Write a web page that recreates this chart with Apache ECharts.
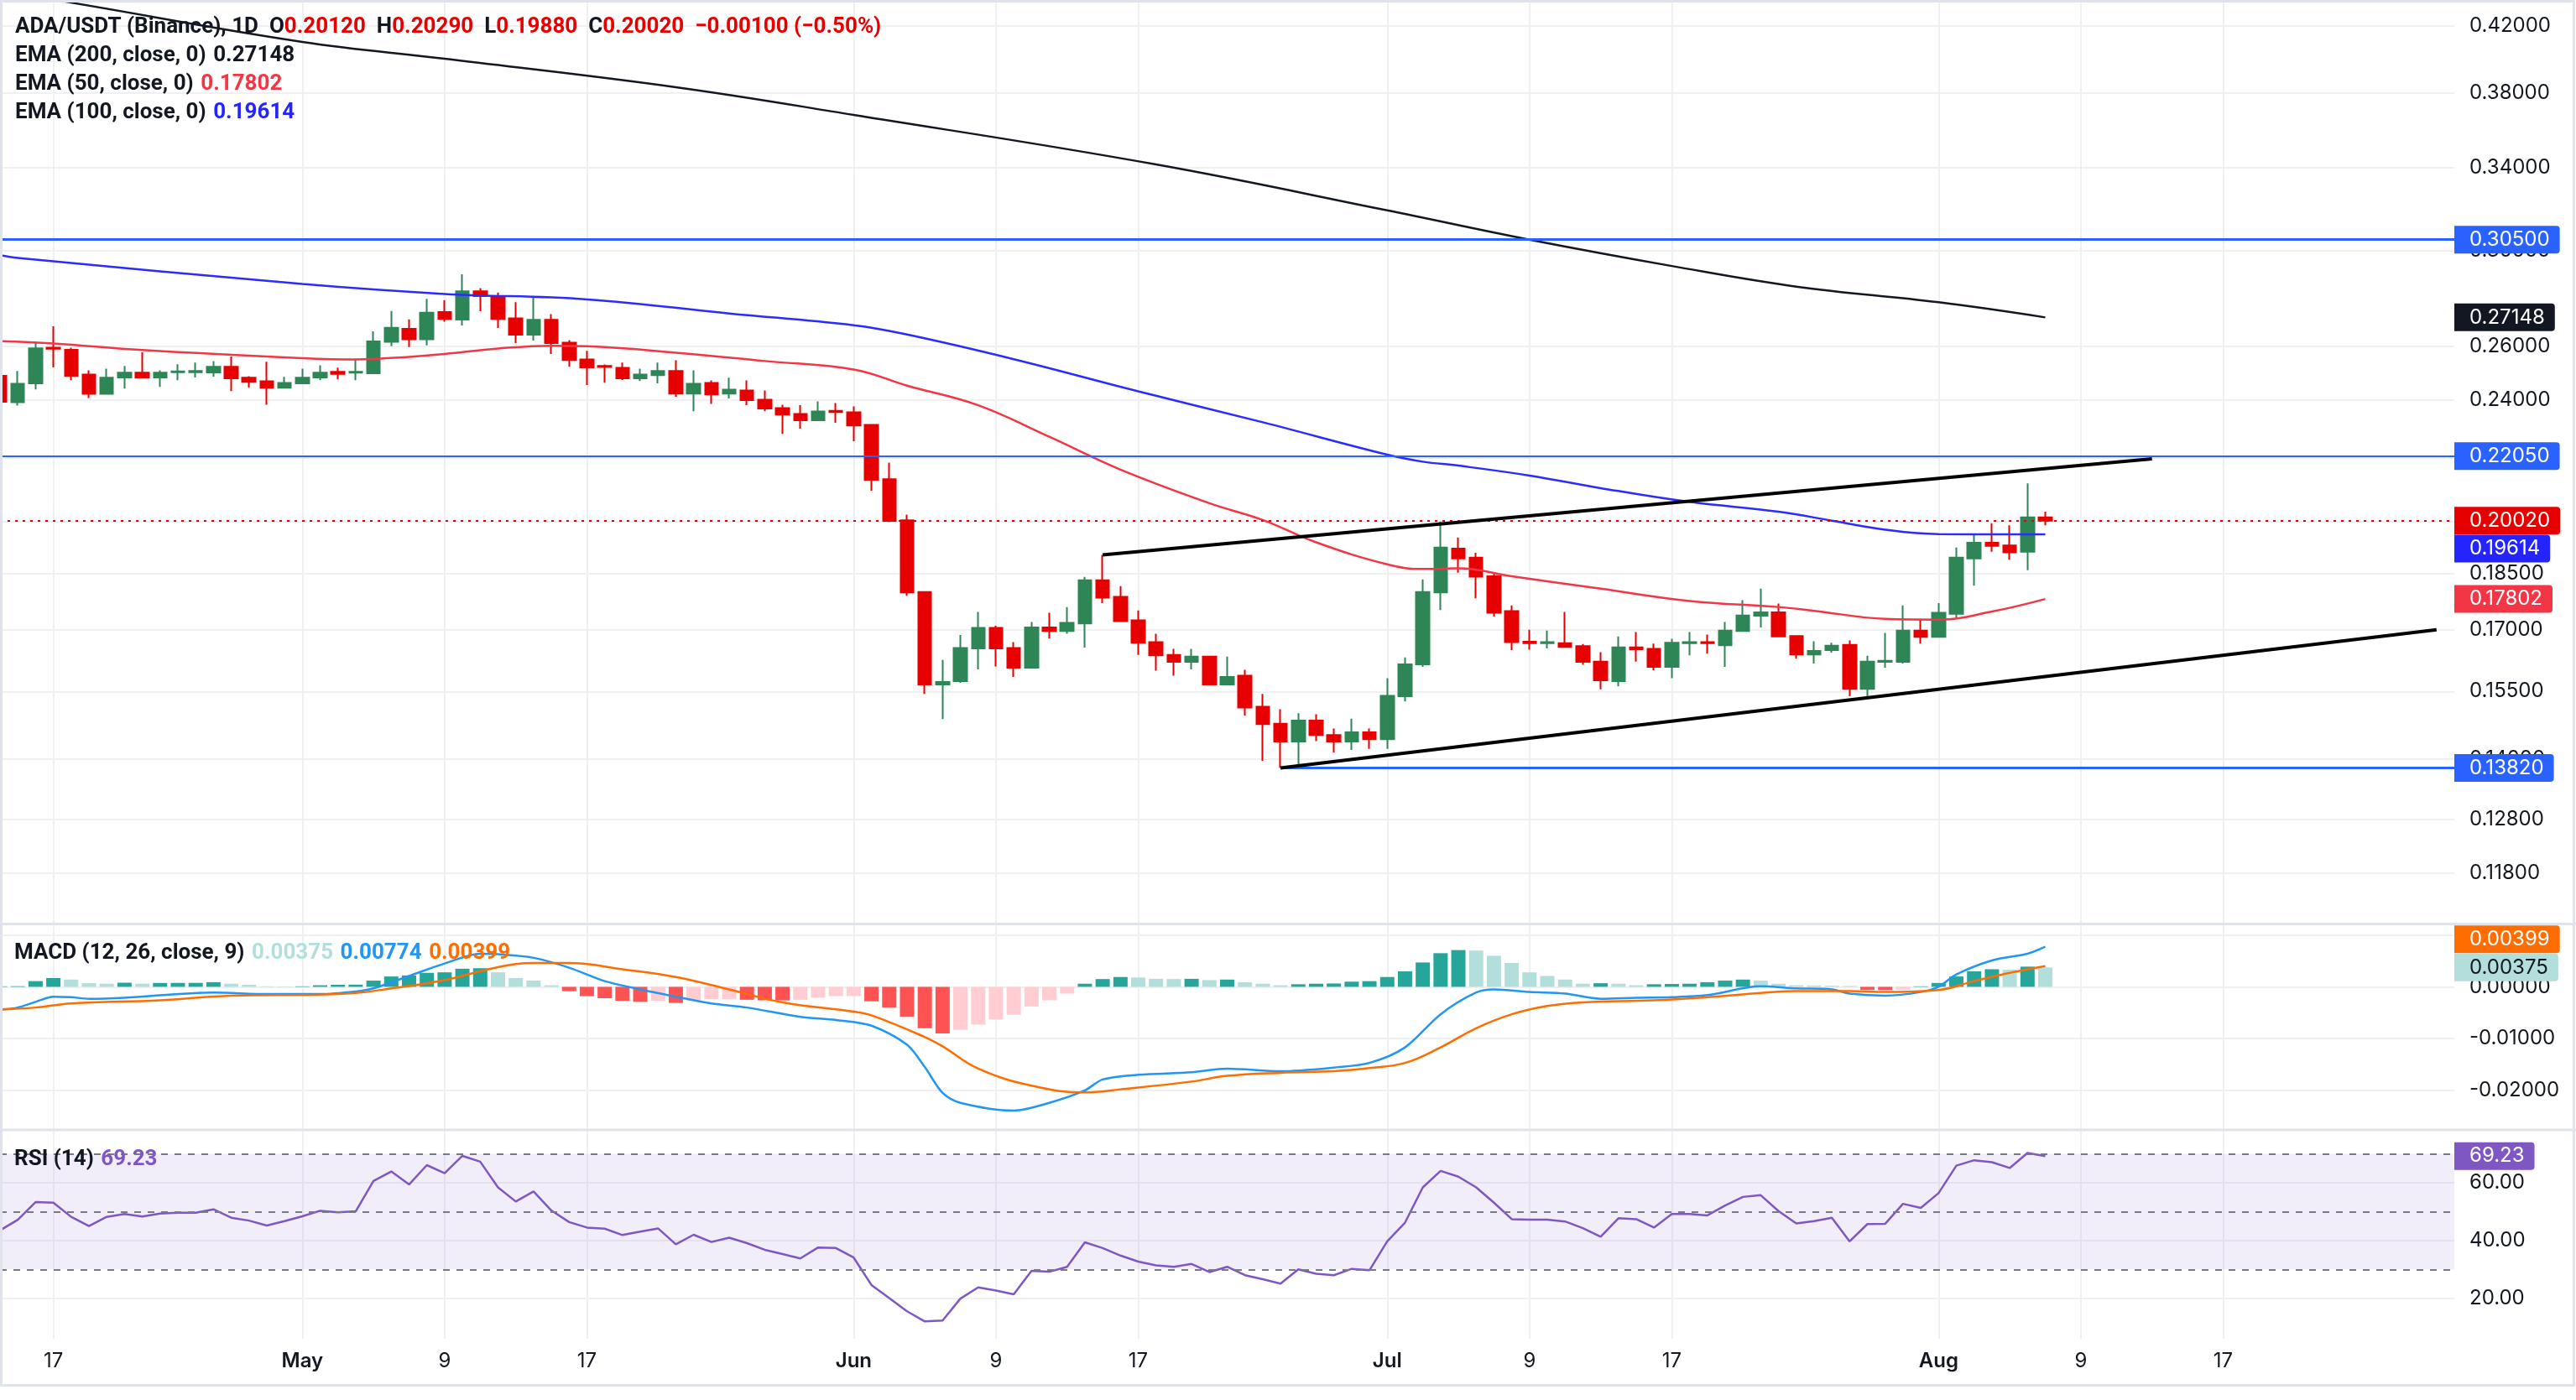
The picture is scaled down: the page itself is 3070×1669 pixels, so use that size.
<!DOCTYPE html>
<html lang="en">
  <head>
    <meta charset="UTF-8" />
    <meta name="viewport" content="width=device-width, initial-scale=1.0" />
    <title>ADA/USDT 1D</title>
    <script src="https://cdn.jsdelivr.net/npm/echarts@6.0.0/dist/echarts.min.js"></script>
    <style>
      html, body { margin: 0; padding: 0; background: #ffffff; }
    </style>
  </head>
  <body>
    <div id="main" style="width: 3070px; height: 1669px"></div>
    <script type="text/javascript">
      // ---------- values ----------
      // daily candles, Apr 14 .. Aug 7
      const candleOpen = [
        0.2487, 0.2391, 0.2459, 0.2594, 0.2586, 0.2492, 0.2421, 0.2481, 0.2499, 0.2481, 0.2501, 0.2501, 0.25, 0.2521, 0.248, 0.2467, 0.2443,
        0.2459, 0.2481, 0.2502, 0.2499, 0.2497, 0.2617, 0.2669, 0.2627, 0.2737, 0.2706, 0.2823, 0.2803, 0.2711, 0.2645, 0.2705, 0.2614, 0.2549, 0.2524, 0.2517, 0.2478, 0.249, 0.2505, 0.2422, 0.2461, 0.2422, 0.2433, 0.24, 0.237, 0.2349, 0.2327, 0.236,
        0.2355, 0.2311, 0.213, 0.2003, 0.1799, 0.1566, 0.1574, 0.1653, 0.1705, 0.1654, 0.1606, 0.1706, 0.1697, 0.1716, 0.1831, 0.1786, 0.1724, 0.1669, 0.1637, 0.162, 0.1633, 0.1566, 0.1587, 0.1515, 0.1477, 0.1438, 0.1484, 0.1452, 0.1438, 0.1458,
        0.1443, 0.1539, 0.1614, 0.1798, 0.192, 0.1894, 0.1842, 0.1748, 0.167, 0.1666, 0.1666, 0.1659, 0.1621, 0.1574, 0.1656, 0.1652, 0.1608, 0.1666, 0.1669, 0.1661, 0.1697, 0.1736, 0.1745, 0.1684, 0.1638, 0.1649, 0.1662, 0.1556, 0.162, 0.162, 0.1698,
        0.1682, 0.1741, 0.1892, 0.1937, 0.1929, 0.1911, 0.2012
      ];
      const candleHigh = [
        0.2495, 0.2505, 0.2614, 0.2679, 0.2594, 0.2508, 0.2514, 0.2524, 0.2576, 0.2508, 0.2531, 0.2537, 0.2543, 0.256, 0.2486, 0.254, 0.2483,
        0.2514, 0.2527, 0.2518, 0.255, 0.2659, 0.2741, 0.2707, 0.2791, 0.2785, 0.2896, 0.2836, 0.2818, 0.2777, 0.2804, 0.2728, 0.2624, 0.2582, 0.253, 0.2537, 0.2514, 0.2537, 0.2546, 0.2508, 0.247, 0.248, 0.247, 0.2433, 0.2382, 0.238, 0.2394, 0.2388,
        0.2376, 0.2311, 0.2184, 0.202, 0.1799, 0.1625, 0.1687, 0.1746, 0.171, 0.1669, 0.172, 0.1744, 0.1759, 0.184, 0.1902, 0.1815, 0.175, 0.169, 0.1652, 0.1652, 0.1635, 0.1633, 0.1601, 0.1544, 0.1509, 0.15, 0.1498, 0.1466, 0.1488, 0.1466,
        0.1581, 0.1631, 0.1833, 0.1999, 0.1952, 0.1908, 0.185, 0.1763, 0.17, 0.1698, 0.1746, 0.1664, 0.1644, 0.1683, 0.1694, 0.1665, 0.1677, 0.1694, 0.1688, 0.172, 0.1777, 0.1808, 0.1768, 0.1684, 0.1671, 0.1667, 0.1673, 0.1635, 0.1692, 0.1763, 0.1728,
        0.1769, 0.1923, 0.1962, 0.1994, 0.1988, 0.2117, 0.2029
      ];
      const candleLow = [
        0.2387, 0.2379, 0.2437, 0.2519, 0.2471, 0.2406, 0.2418, 0.244, 0.248, 0.2446, 0.2471, 0.2481, 0.2484, 0.2431, 0.2443, 0.2382, 0.2443,
        0.2459, 0.2471, 0.2474, 0.2471, 0.2497, 0.26, 0.2597, 0.2603, 0.2697, 0.2682, 0.274, 0.2672, 0.2612, 0.2622, 0.257, 0.2522, 0.2453, 0.2462, 0.2472, 0.2468, 0.2459, 0.241, 0.2359, 0.2385, 0.2404, 0.238, 0.2359, 0.228, 0.2298, 0.2327, 0.2318,
        0.2255, 0.2094, 0.1998, 0.1789, 0.1544, 0.1487, 0.157, 0.1602, 0.1609, 0.1584, 0.1606, 0.1678, 0.169, 0.1655, 0.1769, 0.1721, 0.1637, 0.1599, 0.1587, 0.1602, 0.1564, 0.1566, 0.1495, 0.1397, 0.1382, 0.1387, 0.1439, 0.1414, 0.142, 0.1422,
        0.1422, 0.1527, 0.1608, 0.1751, 0.1852, 0.1782, 0.1734, 0.1649, 0.165, 0.1653, 0.1657, 0.1613, 0.1555, 0.1562, 0.1621, 0.16, 0.1581, 0.1636, 0.164, 0.1608, 0.1695, 0.1706, 0.1682, 0.1628, 0.1616, 0.1643, 0.1539, 0.1536, 0.1606, 0.1616, 0.1665,
        0.1682, 0.1729, 0.1816, 0.1911, 0.1888, 0.1859, 0.1988
      ];
      const candleClose = [
        0.2392, 0.2458, 0.2592, 0.259, 0.2487, 0.2421, 0.248, 0.2499, 0.2481, 0.2499, 0.2504, 0.2505, 0.2521, 0.2478, 0.2465, 0.2443, 0.2461,
        0.248, 0.2499, 0.2494, 0.2502, 0.2619, 0.2673, 0.2627, 0.2734, 0.2708, 0.2823, 0.2803, 0.2708, 0.2645, 0.2705, 0.2612, 0.2547, 0.2519, 0.252, 0.2478, 0.2492, 0.2505, 0.2422, 0.2458, 0.2419, 0.2436, 0.2398, 0.2368, 0.2347, 0.2327, 0.2358, 0.2356,
        0.2309, 0.2128, 0.2001, 0.1798, 0.1566, 0.1572, 0.1654, 0.1705, 0.1653, 0.1606, 0.1706, 0.1697, 0.1718, 0.1831, 0.1784, 0.1722, 0.1667, 0.1636, 0.162, 0.1633, 0.1566, 0.1584, 0.1513, 0.1476, 0.1438, 0.1484, 0.1452, 0.1438, 0.1458, 0.1443,
        0.154, 0.1614, 0.1799, 0.1923, 0.1892, 0.1841, 0.1744, 0.1669, 0.1666, 0.1669, 0.1657, 0.162, 0.1576, 0.1656, 0.1651, 0.1608, 0.1667, 0.1669, 0.1666, 0.1698, 0.1737, 0.1745, 0.1683, 0.1638, 0.1647, 0.166, 0.1556, 0.1621, 0.1623, 0.1698, 0.1682,
        0.1744, 0.1894, 0.1937, 0.1928, 0.1909, 0.2012, 0.2002
      ];

      // moving averages, read at sample days
      const ema200Days = ["04-14", "04-17", "05-01", "05-09", "05-22", "06-01", "06-18", "07-01", "07-09", "07-17", "07-24", "08-01", "08-07"];
      const ema200Vals = [0.442, 0.437, 0.4102, 0.4, 0.3833, 0.3677, 0.3414, 0.3187, 0.305, 0.2932, 0.2843, 0.2777, 0.27148];
      const ema50Days = ["04-14", "04-17", "04-22", "05-01", "05-04", "05-07", "05-09", "05-12", "05-15", "05-17", "05-22", "05-27", "06-01", "06-04", "06-08", "06-12", "06-16", "06-21", "06-24", "06-27", "07-01", "07-03", "07-05", "07-08", "07-13", "07-18", "07-23", "07-25", "07-29", "08-01", "08-04", "08-07"];
      const ema50Vals = [0.262, 0.2611, 0.2585, 0.2554, 0.2549, 0.2559, 0.257, 0.2591, 0.2602, 0.26, 0.2575, 0.2543, 0.2511, 0.2451, 0.238, 0.227, 0.2161, 0.2055, 0.2004, 0.1938, 0.1875, 0.1862, 0.1864, 0.1842, 0.1808, 0.1775, 0.1759, 0.1749, 0.1728, 0.1726, 0.1747, 0.17802];
      const ema100Days = ["04-14", "04-15", "05-01", "05-09", "05-17", "05-25", "06-01", "06-04", "06-10", "06-17", "06-24", "07-01", "07-03", "07-05", "07-09", "07-13", "07-18", "07-23", "07-26", "07-29", "08-01", "08-07"];
      const ema100Vals = [0.298, 0.2968, 0.2854, 0.2812, 0.2789, 0.2731, 0.2683, 0.2646, 0.255, 0.243, 0.232, 0.221, 0.2187, 0.2174, 0.2142, 0.2102, 0.2059, 0.2029, 0.2002, 0.1975, 0.1962, 0.19614];

      // drawn levels and trend lines
      const levelLines = [0.305, 0.2205];
      const supportLevel = 0.1382;
      const supportFrom = "06-25";
      const upperTrend = [["06-15", 0.1902], ["08-13", 0.2196]];
      const lowerTrend = [["06-25", 0.1382], ["08-29", 0.17]];

      // MACD (12, 26, 9)
      const macdHist = [
        0.0001, 0.00012, 0.0011, 0.0017, 0.0014, 0.0007, 0.0006, 0.0008, 0.0006, 0.00075, 0.00076, 0.00077, 0.0009, 0.0006, 0.0004, 0.0001, 0.00008,
        0.0001, 0.0003, 0.0004, 0.00042, 0.0012, 0.002, 0.0022, 0.0027, 0.0028, 0.0035, 0.0036, 0.0028, 0.0017, 0.0012, 0.0003, -0.00085, -0.0018, -0.0022, -0.0027, -0.0029, -0.0027, -0.0031, -0.0027, -0.0024, -0.00238, -0.0025, -0.0026, -0.00262, -0.0025, -0.0021, -0.0018,
        -0.00178, -0.0028, -0.004, -0.0058, -0.008, -0.009, -0.0083, -0.0073, -0.0063, -0.0054, -0.0038, -0.0026, -0.0013, 0.0006, 0.0015, 0.0019, 0.0018, 0.00155, 0.0015, 0.00155, 0.0013, 0.0014, 0.0009, 0.0006, 0.0003, 0.0005, 0.0006, 0.00065, 0.001, 0.0011,
        0.0019, 0.003, 0.0047, 0.0065, 0.0071, 0.007, 0.006, 0.0046, 0.0028, 0.0021, 0.0014, 0.0006, 0.0007, 0.0006, 0.0003, 0.0005, 0.00055, 0.0006, 0.0009, 0.0012, 0.0014, 0.0012, 0.0006, 0.0003, 0.00025, 0.0002, 0.00015, -0.0006, -0.00065, -0.0006, 0.0001,
        0.00075, 0.002, 0.003, 0.0034, 0.0033, 0.0039, 0.00375
      ];
      const macdDays = ["04-14", "04-15", "04-16", "04-17", "04-18", "04-19", "04-21", "04-26", "04-29", "05-02", "05-04", "05-05", "05-07", "05-09", "05-11", "05-12", "05-14", "05-16", "05-18", "05-20", "05-22", "05-24", "05-26", "05-29", "05-31", "06-02", "06-04", "06-05", "06-06", "06-07", "06-10", "06-12", "06-14", "06-15", "06-17", "06-20", "06-22", "06-25", "06-28", "06-30", "07-02", "07-04", "07-06", "07-07", "07-09", "07-11", "07-13", "07-15", "07-17", "07-19", "07-22", "07-24", "07-26", "07-27", "07-29", "07-31", "08-01", "08-02", "08-04", "08-06", "08-07"];
      const macdVals = [-0.0044, -0.004, -0.0029, -0.0019, -0.002, -0.0023, -0.0021, -0.0011, -0.0014, -0.0014, -0.0009, -0.0003, 0.0021, 0.0045, 0.0064, 0.0063, 0.0056, 0.0037, 0.0011, -0.0005, -0.0019, -0.0032, -0.004, -0.0058, -0.0064, -0.0075, -0.0112, -0.0155, -0.0205, -0.0224, -0.0239, -0.0224, -0.02, -0.0179, -0.017, -0.0165, -0.0158, -0.0163, -0.0156, -0.0147, -0.0117, -0.0053, -0.0011, -0.0005, -0.001, -0.0013, -0.0023, -0.0021, -0.002, -0.0016, 0.0001, -0.0003, -0.0005, -0.0013, -0.0017, -0.001, 0.0, 0.0024, 0.0051, 0.0064, 0.00774];
      const signalDays = ["04-14", "04-16", "04-18", "04-23", "04-27", "05-02", "05-04", "05-06", "05-09", "05-12", "05-14", "05-16", "05-19", "05-22", "05-25", "05-28", "06-01", "06-02", "06-05", "06-06", "06-08", "06-11", "06-14", "06-16", "06-20", "06-22", "06-25", "06-28", "06-30", "07-02", "07-04", "07-06", "07-08", "07-10", "07-12", "07-16", "07-19", "07-22", "07-24", "07-27", "07-29", "08-01", "08-03", "08-05", "08-07"];
      const signalVals = [-0.0044, -0.004, -0.0032, -0.0026, -0.0017, -0.0015, -0.0012, -0.0003, 0.0013, 0.0038, 0.0046, 0.0046, 0.0034, 0.0019, -0.0005, -0.003, -0.0048, -0.0055, -0.0097, -0.0115, -0.0158, -0.0191, -0.0204, -0.0198, -0.0183, -0.0172, -0.0166, -0.0163, -0.0157, -0.0147, -0.0117, -0.008, -0.0053, -0.0037, -0.003, -0.0026, -0.002, -0.0012, -0.0008, -0.0008, -0.001, -0.0006, 0.0011, 0.0027, 0.00399];

      // RSI (14), daily
      const rsiVals = [
        43.5, 47.2, 53.3, 53.1, 48.2, 45.0, 48.2, 49.2, 48.3, 49.3, 49.6, 49.6, 50.8, 47.9, 46.9, 45.2, 46.7,
        48.4, 50.3, 49.8, 50.1, 60.6, 63.9, 59.4, 66.1, 63.3, 69.3, 67.3, 58.4, 53.5, 57.0, 50.4, 46.4, 44.5, 44.1, 41.9, 43.1, 44.2, 38.7, 42.0, 39.5, 41.0, 39.1, 36.8, 35.3, 33.8, 37.6, 37.4,
        34.1, 24.6, 20.1, 15.5, 12.0, 12.3, 19.9, 23.8, 22.7, 21.4, 29.5, 29.2, 30.9, 39.4, 37.4, 34.8, 32.7, 31.4, 30.9, 31.9, 29.1, 30.9, 28.0, 26.6, 25.1, 30.0, 28.5, 28.0, 30.2, 29.7,
        39.7, 46.2, 58.4, 64.1, 62.1, 58.4, 53.1, 47.4, 47.2, 47.2, 46.6, 44.3, 41.3, 47.7, 47.4, 44.5, 49.2, 49.2, 48.7, 52.1, 55.1, 55.7, 50.2, 45.9, 46.7, 47.9, 39.7, 45.7, 45.8, 52.7, 51.3,
        56.4, 65.9, 67.8, 67.1, 65.1, 70.3, 69.23
      ];

      // axis ticks
      const priceGridTicks = [0.42, 0.38, 0.34, 0.3, 0.26, 0.24, 0.22, 0.2, 0.185, 0.17, 0.155, 0.14, 0.128, 0.118];
      const priceLabelTicks = [0.42, 0.38, 0.34, 0.3, 0.26, 0.24, 0.185, 0.17, 0.155, 0.14, 0.128, 0.118];
      const macdGridTicks = [0.01, 0, -0.01, -0.02];
      const macdLabelTicks = [0, -0.01, -0.02];
      const rsiTicks = [60, 40, 20];
      const rsiBands = [70, 50, 30];
      const xTickDays = [1, 9, 17];
      const monthNames = ["Jan", "Feb", "Mar", "Apr", "May", "Jun", "Jul", "Aug", "Sep", "Oct", "Nov", "Dec"];

      // ---------- build ----------
      const FONT = 'Inter, "Noto Sans", sans-serif';
      const LEGEND_FONT = 'Roboto, "Noto Sans", sans-serif';
      const TXT = "#131722";
      const GRID = "#f0f0f3";
      const BORDER = "#e0e3eb";
      const UP = "#2e8555";
      const DOWN = "#e60000";
      const NONE = "rgba(0,0,0,0)";

      const categories = [];
      for (let d = new Date(2024, 3, 14); d <= new Date(2024, 7, 30); d.setDate(d.getDate() + 1)) {
        categories.push(String(d.getMonth() + 1).padStart(2, "0") + "-" + String(d.getDate()).padStart(2, "0"));
      }
      const idx = (day) => categories.indexOf(day);
      const isTickDay = (val) => xTickDays.includes(+val.split("-")[1]);
      const pairs = (days, vals) => days.map((d, i) => [d, vals[i]]);
      const f5 = (v) => v.toFixed(5);
      const minus = (s) => s.replace("-", "\u2212");

      const candles = candleOpen.map((o, i) => [o, candleClose[i], candleLow[i], candleHigh[i]]);
      const n = candleOpen.length;
      const lastO = candleOpen[n - 1], lastH = candleHigh[n - 1], lastL = candleLow[n - 1], lastC = candleClose[n - 1];
      const chg = lastC - candleClose[n - 2];
      const chgPct = (chg / candleClose[n - 2]) * 100;

      const histColor = (i) => {
        const v = macdHist[i];
        const p = i ? macdHist[i - 1] : v;
        if (v >= 0) return v >= p ? "#26a69a" : "#b2dfdb";
        return v < p ? "#ff5252" : "#ffcdd2";
      };

      function tagLabel(text, bg, fg) {
        return {
          show: true, position: "end", distance: 0, formatter: text,
          color: fg || "#ffffff", backgroundColor: bg, padding: [5, 12, 4, 18],
          fontSize: 24, lineHeight: 24, fontFamily: FONT, borderRadius: [0, 4, 4, 0]
        };
      }
      // a price tag on the axis with no line across the pane
      function tag(value, text, bg, fg) {
        return { yAxis: value, lineStyle: { color: NONE, width: 0 }, label: tagLabel(text, bg, fg) };
      }

      const ema200Last = ema200Vals[ema200Vals.length - 1];
      const ema50Last = ema50Vals[ema50Vals.length - 1];
      const ema100Last = ema100Vals[ema100Vals.length - 1];
      const histLast = macdHist[macdHist.length - 1];
      const macdLast = macdVals[macdVals.length - 1];
      const signalLast = signalVals[signalVals.length - 1];
      const rsiLast = rsiVals[rsiVals.length - 1];

      const gridLine = { show: true, lineStyle: { color: GRID, width: 2 } };
      const legendStyle = (extra) => {
        const rich = { g: { fontSize: 26, color: TXT, fontFamily: LEGEND_FONT } };
        Object.keys(extra).forEach((k) => (rich[k] = { fontSize: 26, color: extra[k], fontFamily: LEGEND_FONT }));
        return { rich: rich };
      };

      const myChart = echarts.init(document.getElementById("main"));

      const option = {
        animation: false,
        backgroundColor: "#ffffff",
        textStyle: { fontFamily: FONT },
        title: [
          {
            left: 18, top: 19, padding: 0,
            text:
              "{g|ADA/USDT (Binance), 1D  O}{r|" + f5(lastO) + "}{g|  H}{r|" + f5(lastH) +
              "}{g|  L}{r|" + f5(lastL) + "}{g|  C}{r|" + f5(lastC) + "}{r|  " +
              minus(f5(chg)) + " (" + minus(chgPct.toFixed(2)) + "%)}",
            textStyle: legendStyle({ r: DOWN })
          },
          {
            left: 18, top: 53, padding: 0,
            text: "{g|EMA (200, close, 0)}  {v|" + f5(ema200Last) + "}",
            textStyle: legendStyle({ v: "#131722" })
          },
          {
            left: 18, top: 87, padding: 0,
            text: "{g|EMA (50, close, 0)}  {v|" + f5(ema50Last) + "}",
            textStyle: legendStyle({ v: "#f23645" })
          },
          {
            left: 18, top: 121, padding: 0,
            text: "{g|EMA (100, close, 0)}  {v|" + f5(ema100Last) + "}",
            textStyle: legendStyle({ v: "#2424ff" })
          },
          {
            left: 17, top: 1123, padding: 0,
            text: "{g|MACD (12, 26, close, 9)}  {h|" + f5(histLast) + "}  {m|" + f5(macdLast) + "}  {s|" + f5(signalLast) + "}",
            textStyle: legendStyle({ h: "#b2dfdb", m: "#2196f3", s: "#ff6d00" })
          },
          {
            left: 17, top: 1369, padding: 0,
            text: "{g|RSI (14)}  {v|" + rsiLast.toFixed(2) + "}",
            textStyle: legendStyle({ v: "#7e57c2" })
          }
        ],
        grid: [
          { left: 0, right: 145, top: 0, height: 1100 },
          { left: 0, right: 145, top: 1103, height: 245 },
          { left: 0, right: 145, top: 1348, height: 248 }
        ],
        xAxis: [0, 1, 2].map((g) => ({
          type: "category",
          gridIndex: g,
          data: categories,
          boundaryGap: false,
          axisLine: { show: false },
          axisTick: { show: false },
          axisLabel:
            g === 2
              ? {
                  show: true,
                  interval: (i, val) => isTickDay(val),
                  formatter: (val) => {
                    const [m, d] = val.split("-");
                    return +d === 1 ? "{m|" + monthNames[+m - 1] + "}" : String(+d);
                  },
                  color: TXT, fontSize: 24, fontFamily: FONT, margin: 15,
                  rich: { m: { color: TXT, fontSize: 24, fontWeight: 600, fontFamily: FONT } }
                }
              : { show: false },
          splitLine: { show: true, interval: (i, val) => isTickDay(val), lineStyle: { color: GRID, width: 2 } }
        })),
        yAxis: [
          {
            type: "log", logBase: 10, gridIndex: 0, position: "right",
            min: 0.1096, max: 0.4368,
            axisLine: { show: false },
            axisTick: { show: false, customValues: priceGridTicks },
            axisLabel: { customValues: priceLabelTicks, formatter: (v) => v.toFixed(5), margin: 18, fontSize: 24, color: TXT, fontFamily: FONT },
            splitLine: gridLine
          },
          {
            type: "value", gridIndex: 1, position: "right",
            min: -0.0278, max: 0.0119,
            axisLine: { show: false },
            axisTick: { show: false, customValues: macdGridTicks },
            axisLabel: { customValues: macdLabelTicks, formatter: (v) => v.toFixed(5), margin: 18, fontSize: 24, color: TXT, fontFamily: FONT },
            splitLine: gridLine
          },
          {
            type: "value", gridIndex: 2, position: "right",
            min: 6, max: 78,
            axisLine: { show: false },
            axisTick: { show: false, customValues: rsiTicks },
            axisLabel: { customValues: rsiTicks, formatter: (v) => v.toFixed(2), margin: 18, fontSize: 24, color: TXT, fontFamily: FONT },
            splitLine: gridLine
          }
        ],
        series: [
          {
            name: "ADA/USDT",
            type: "candlestick",
            xAxisIndex: 0, yAxisIndex: 0,
            data: candles,
            barWidth: 16,
            z: 3,
            itemStyle: { color: UP, color0: DOWN, borderColor: UP, borderColor0: DOWN, borderWidth: 2 }
          },
          {
            name: "EMA 200", type: "line", xAxisIndex: 0, yAxisIndex: 0,
            data: pairs(ema200Days, ema200Vals), smooth: 0.4, showSymbol: false, z: 4,
            lineStyle: { color: "#131722", width: 2.5 }
          },
          {
            name: "EMA 50", type: "line", xAxisIndex: 0, yAxisIndex: 0,
            data: pairs(ema50Days, ema50Vals), smooth: 0.4, showSymbol: false, z: 4,
            lineStyle: { color: "#f23645", width: 2.5 }
          },
          {
            name: "EMA 100", type: "line", xAxisIndex: 0, yAxisIndex: 0,
            data: pairs(ema100Days, ema100Vals), smooth: 0.4, showSymbol: false, z: 4,
            lineStyle: { color: "#2b2bff", width: 2.5 }
          },
          {
            name: "levels", type: "line", xAxisIndex: 0, yAxisIndex: 0, data: [], z: 5,
            markLine: {
              silent: true, symbol: ["none", "none"], animation: false, precision: 6,
              data: [
                { yAxis: levelLines[0], lineStyle: { color: "#2962ff", width: 3, type: "solid" }, label: tagLabel(f5(levelLines[0]), "#2962ff") },
                { yAxis: levelLines[1], lineStyle: { color: "#2962ff", width: 2, type: "solid" }, label: tagLabel(f5(levelLines[1]), "#2962ff") },
                { yAxis: lastC, lineStyle: { color: DOWN, width: 2, type: [3, 6] }, label: tagLabel(f5(lastC), DOWN) },
                [
                  { coord: [idx(supportFrom), supportLevel], lineStyle: { color: "#2962ff", width: 3, type: "solid" }, label: tagLabel(f5(supportLevel), "#2962ff") },
                  { coord: [categories.length - 1, supportLevel] }
                ],
                [
                  { coord: [idx(upperTrend[0][0]), upperTrend[0][1]], lineStyle: { color: "#000000", width: 4, type: "solid" }, label: { show: false } },
                  { coord: [idx(upperTrend[1][0]), upperTrend[1][1]] }
                ],
                [
                  { coord: [idx(lowerTrend[0][0]), lowerTrend[0][1]], lineStyle: { color: "#000000", width: 4, type: "solid" }, label: { show: false } },
                  { coord: [idx(lowerTrend[1][0]), lowerTrend[1][1]] }
                ],
                tag(ema200Last, f5(ema200Last), "#131722"),
                // nudged below the last-price tag, as the platform does
                tag(0.192, f5(ema100Last), "#2424ff"),
                tag(ema50Last, f5(ema50Last), "#f23645")
              ]
            }
          },
          {
            name: "Histogram", type: "bar", xAxisIndex: 1, yAxisIndex: 1,
            data: macdHist.map((v, i) => ({ value: v, itemStyle: { color: histColor(i) } })),
            barWidth: 17
          },
          {
            name: "MACD", type: "line", xAxisIndex: 1, yAxisIndex: 1,
            data: pairs(macdDays, macdVals), smooth: 0.3, showSymbol: false,
            lineStyle: { color: "#2196f3", width: 2.5 }
          },
          {
            name: "Signal", type: "line", xAxisIndex: 1, yAxisIndex: 1,
            data: pairs(signalDays, signalVals), smooth: 0.4, showSymbol: false,
            lineStyle: { color: "#ff6d00", width: 2.5 }
          },
          {
            name: "macd tags", type: "line", xAxisIndex: 1, yAxisIndex: 1, data: [], z: 5,
            markLine: {
              silent: true, symbol: ["none", "none"], animation: false, precision: 6,
              data: [
                // nudged above the histogram tag
                tag(0.0092, f5(signalLast), "#ff6d00"),
                tag(histLast, f5(histLast), "#b2dfdb", "#131722")
              ]
            }
          },
          {
            name: "RSI", type: "line", xAxisIndex: 2, yAxisIndex: 2,
            data: rsiVals, showSymbol: false,
            lineStyle: { color: "#7e57c2", width: 2.5 },
            markArea: {
              silent: true,
              itemStyle: { color: "rgba(126, 87, 194, 0.1)" },
              data: [[{ yAxis: rsiBands[2] }, { yAxis: rsiBands[0] }]]
            },
            markLine: {
              silent: true, symbol: ["none", "none"], animation: false, precision: 4,
              data: rsiBands
                .map((b) => ({ yAxis: b, lineStyle: { color: "#787b86", width: 2, type: [8, 8] }, label: { show: false } }))
                .concat([tag(rsiLast, rsiLast.toFixed(2), "#7e57c2")])
            }
          }
        ],
        graphic: [
          { type: "rect", silent: true, z: 100, shape: { x: 1.5, y: 1.5, width: 3066, height: 1650 }, style: { fill: "none", stroke: BORDER, lineWidth: 3 } },
          { type: "line", silent: true, z: 100, shape: { x1: 0, y1: 1101.5, x2: 3070, y2: 1101.5 }, style: { stroke: BORDER, lineWidth: 3 } },
          { type: "line", silent: true, z: 100, shape: { x1: 0, y1: 1347, x2: 3070, y2: 1347 }, style: { stroke: BORDER, lineWidth: 3 } }
        ]
      };

      myChart.setOption(option);
    </script>
  </body>
</html>
